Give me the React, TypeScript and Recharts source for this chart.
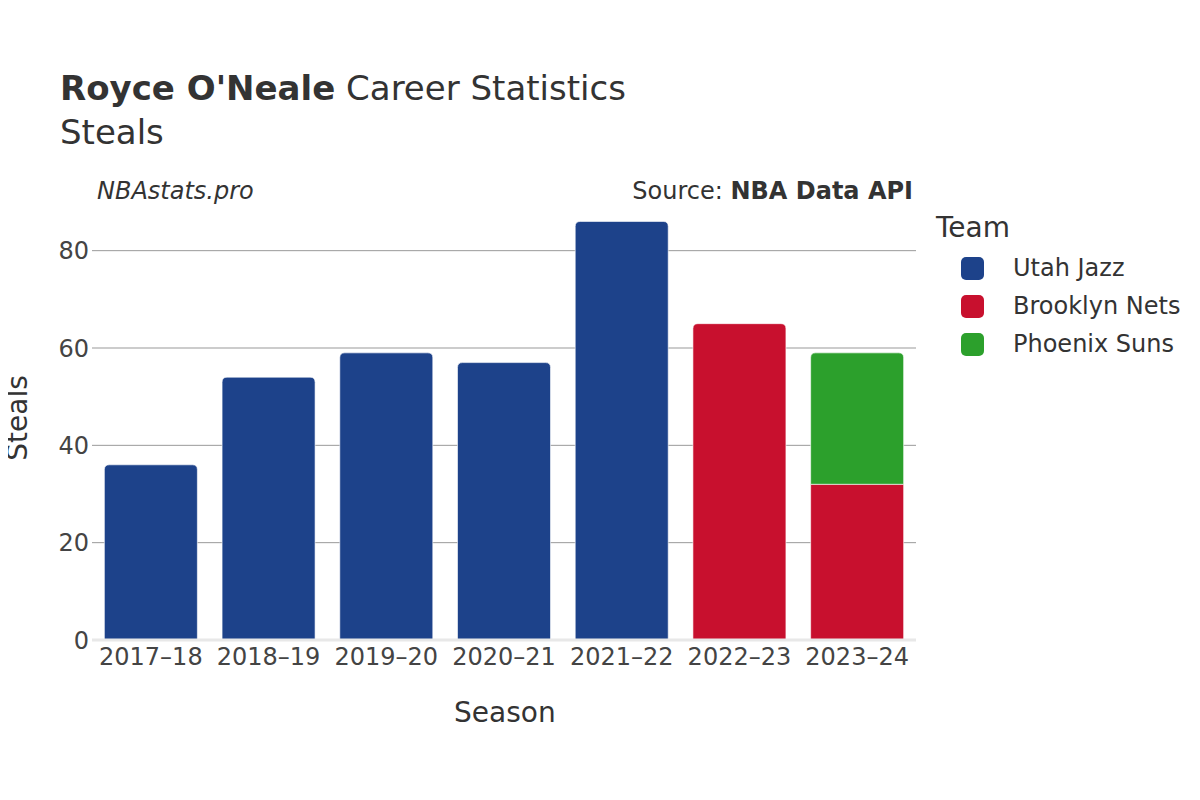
import { BarChart, Bar, XAxis, YAxis, CartesianGrid, ReferenceLine } from "recharts";

const seasons = ["2017–18", "2018–19", "2019–20", "2020–21", "2021–22", "2022–23", "2023–24"];
const utahJazz = [36, 54, 59, 57, 86, null, null];
const brooklynNets = [null, null, null, null, null, 65, 32];
const phoenixSuns = [null, null, null, null, null, null, 27];
const yTicks = [0, 20, 40, 60, 80];

const teams = [
  { key: "utah", name: "Utah Jazz", color: "#1d428a" },
  { key: "brooklyn", name: "Brooklyn Nets", color: "#c8102e" },
  { key: "phoenix", name: "Phoenix Suns", color: "#2ca02c" },
];

const data = seasons.map((s, i) => ({
  season: s,
  utah: utahJazz[i],
  brooklyn: brooklynNets[i],
  phoenix: phoenixSuns[i],
}));

const FONT = "'DejaVu Sans', sans-serif";

// top-rounded only when nothing is stacked above this segment
function makeShape(idx: number) {
  return (props: any) => {
    const { x, y, width, height, fill, payload } = props;
    if (!height || height <= 0) return <g />;
    const above = teams.slice(idx + 1).some((t) => payload[t.key] != null);
    const r = above ? 0 : Math.min(5, height / 2);
    const d = `M${x},${y + height} L${x},${y + r} Q${x},${y} ${x + r},${y} L${x + width - r},${y} Q${x + width},${y} ${x + width},${y + r} L${x + width},${y + height} Z`;
    return <path d={d} fill={fill} stroke="rgba(255,255,255,0.6)" strokeWidth={1} />;
  };
}

export default function App() {
  return (
    <div style={{ position: "relative", width: 1200, height: 800, fontFamily: FONT, color: "#333", margin: -8 }}>
      <BarChart
        width={1200}
        height={800}
        data={data}
        margin={{ top: 202, right: 284, left: 0, bottom: 0 }}
        barCategoryGap="10.5%"
        style={{ fontFamily: FONT }}
      >
        <CartesianGrid vertical={false} horizontalValues={yTicks.filter((v) => v > 0)} stroke="#999" strokeWidth={1} />
        <XAxis
          dataKey="season"
          height={160}
          axisLine={false}
          tickLine={false}
          tickSize={0}
          tickMargin={8}
          tick={{ fontSize: 24, fill: "#444" }}
        />
        <YAxis
          width={92}
          domain={[0, 90]}
          ticks={yTicks}
          axisLine={false}
          tickLine={false}
          tickSize={0}
          tickMargin={3}
          tick={{ fontSize: 24, fill: "#444" }}
        />
        <ReferenceLine y={0} stroke="#e8e8e8" strokeWidth={3} />
        {teams.map((t, i) => (
          <Bar key={t.key} dataKey={t.key} name={t.name} stackId="a" fill={t.color} shape={makeShape(i)} isAnimationActive={false} />
        ))}
      </BarChart>

      <div style={{ position: "absolute", left: 60, top: 68, fontSize: 34, whiteSpace: "nowrap" }}>
        <b>Royce O'Neale</b> Career Statistics
      </div>
      <div style={{ position: "absolute", left: 60, top: 112, fontSize: 34 }}>Steals</div>
      <div style={{ position: "absolute", left: 97, top: 177, fontSize: 24, fontStyle: "italic" }}>NBAstats.pro</div>
      <div style={{ position: "absolute", right: 1200 - 913, top: 177, fontSize: 24, whiteSpace: "nowrap" }}>
        Source: <b>NBA Data API</b>
      </div>
      <div style={{ position: "absolute", left: 454, top: 696, fontSize: 28 }}>Season</div>
      <div
        style={{
          position: "absolute",
          left: 17,
          top: 418,
          fontSize: 28,
          transform: "translate(-50%, -50%) rotate(-90deg)",
          whiteSpace: "nowrap",
        }}
      >
        Steals
      </div>
      <div style={{ position: "absolute", left: 936, top: 211, fontSize: 28 }}>Team</div>
      {teams.map((t, i) => (
        <div key={t.key} style={{ position: "absolute", left: 961, top: 254 + i * 38, display: "flex", alignItems: "center", whiteSpace: "nowrap" }}>
          <div style={{ width: 23, height: 23, borderRadius: 5, background: t.color }} />
          <span style={{ marginLeft: 29, fontSize: 24 }}>{t.name}</span>
        </div>
      ))}
    </div>
  );
}
